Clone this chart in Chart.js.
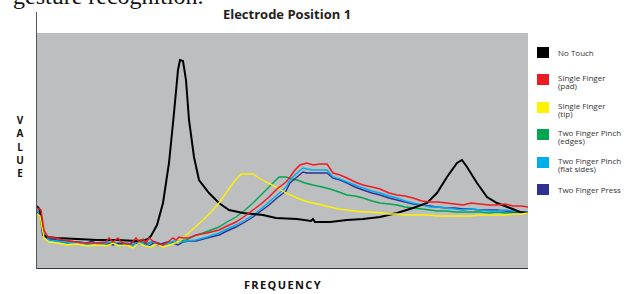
<!DOCTYPE html>
<html>
<head>
<meta charset="utf-8">
<script src="https://cdn.jsdelivr.net/npm/chart.js@4/dist/chart.umd.min.js"></script>
<style>
  body { margin: 0; width: 632px; height: 294px; position: relative; background: #fff; overflow: hidden; font-family: "Open Sans", sans-serif; }
  .abs { position: absolute; }
  #para { left: 13px; top: -16px; font: 24px/24px "Liberation Serif", serif; color: #111; white-space: nowrap; }
  #title { left: 187px; width: 200px; top: 5px; text-align: center; font-weight: bold; font-size: 13px; color: #222; }
  #yaxis { left: 36px; top: 12px; width: 1px; height: 257px; background: #555; }
  #plot { left: 37px; top: 33px; width: 491px; height: 235px; background: #bcbec0; border-bottom: 1px solid #333; }
  #value { left: 14px; top: 114px; width: 12px; text-align: center; font-weight: bold; font-size: 10px; line-height: 13.3px; color: #111; }
  #freq { left: 183px; width: 200px; top: 277px; text-align: center; font-weight: bold; font-size: 11px; letter-spacing: 1.4px; color: #111; }
  .leg { position: absolute; left: 537px; width: 95px; }
  .sw { position: absolute; left: 0; top: 0; width: 12px; height: 11px; }
  .lt { position: absolute; left: 21px; top: -0.5px; font-size: 8px; line-height: 8.5px; color: #333; white-space: nowrap; }
  .one { top: 1.5px; }
</style>
</head>
<body>
<div id="para" class="abs">gesture recognition.</div>
<div id="title" class="abs">Electrode Position 1</div>
<div id="yaxis" class="abs"></div>
<div id="plot" class="abs"><canvas id="c" width="491" height="235"></canvas></div>
<div id="value" class="abs">V<br>A<br>L<br>U<br>E</div>
<div id="freq" class="abs">FREQUENCY</div>
<div id="legend"></div>
<script>
// x = frequency (arbitrary units), y = value (arbitrary units)
const noTouch = [[0,62],[3,58],[6,33],[10,31],[20,30],[40,29],[60,28],[80,28],[100,27],[108,28],[111,29],[114,32],[120,43],[126,65],[132,105],[137,155],[141,198],[143,208],[146,207],[149,188],[152,148],[157,111],[162,88],[172,75],[182,65],[192,58],[206,55],[226,53],[239,50],[260,49],[274,47],[276,49],[278,46],[293,46],[310,48],[326,49],[343,51],[360,55],[376,60],[390,65],[400,75],[410,91],[420,105],[425,108],[430,101],[440,85],[450,71],[460,65],[473,60],[483,56],[491,55]];

const singlePad = [[0,60],[4,58],[7,38],[11,31],[19,30],[26,28],[39,26],[49,25],[59,25],[69,26],[72,30],[76,26],[81,30],[84,26],[89,24],[94,24],[99,30],[102,26],[106,29],[109,25],[112,30],[116,27],[121,24],[126,23],[131,26],[136,30],[139,28],[142,31],[146,30],[152,30],[159,33],[170,35],[182,38],[190,42],[199,46],[208,52],[216,58],[224,64],[232,71],[240,79],[249,86],[253,91],[258,98],[263,103],[270,105],[276,103],[283,104],[290,104],[296,95],[303,93],[310,90],[318,86],[326,83],[335,81],[343,79],[352,75],[360,73],[368,72],[376,70],[385,67],[393,66],[400,66],[410,65],[418,64],[426,63],[434,65],[443,64],[452,63],[460,63],[468,64],[476,62],[484,62],[491,61]];

const singleTip = [[0,54],[3,52],[7,30],[12,26],[20,25],[30,23],[40,24],[50,22],[60,23],[70,22],[76,25],[82,22],[90,23],[96,20],[102,25],[108,22],[114,21],[120,24],[126,21],[132,23],[138,25],[143,27],[146,30],[156,39],[166,48],[174,56],[182,65],[189,75],[196,85],[204,94],[210,94],[216,94],[222,90],[229,86],[239,81],[249,75],[260,70],[268,67],[276,65],[285,63],[293,61],[302,59],[310,58],[318,57],[326,56],[335,56],[343,55],[352,54],[360,54],[368,53],[376,53],[385,53],[393,53],[400,52],[410,52],[418,52],[426,52],[434,52],[443,53],[452,53],[460,53],[468,53],[476,54],[484,54],[491,55]];

const pinchEdges = [[0,58],[3,56],[7,32],[12,28],[20,27],[30,25],[40,26],[50,24],[60,25],[70,24],[76,26],[82,24],[90,25],[96,23],[102,27],[108,24],[114,26],[120,24],[126,23],[132,24],[138,26],[143,27],[149,28],[157,32],[166,35],[174,38],[182,41],[190,46],[199,51],[208,58],[216,65],[224,73],[232,81],[238,87],[242,91],[249,91],[255,89],[260,88],[268,85],[276,83],[285,81],[293,79],[302,76],[310,73],[318,72],[326,70],[335,67],[343,65],[352,64],[360,63],[368,61],[376,60],[385,59],[393,58],[400,57],[410,57],[418,56],[426,56],[434,56],[443,56],[452,55],[460,56],[468,55],[476,55],[484,55],[491,55]];

const pinchFlat = [[0,57],[3,55],[7,34],[12,28],[20,27],[30,26],[40,25],[50,24],[60,25],[70,25],[73,28],[78,24],[85,22],[90,25],[96,22],[100,27],[105,25],[110,22],[115,27],[120,23],[126,22],[131,25],[137,27],[143,26],[150,27],[159,28],[170,31],[182,35],[190,39],[199,43],[208,48],[216,53],[224,59],[232,66],[240,73],[249,81],[253,88],[260,95],[266,100],[270,99],[276,98],[283,98],[290,98],[296,91],[303,89],[310,86],[318,83],[326,80],[335,77],[343,75],[352,72],[360,70],[368,67],[376,65],[385,63],[393,61],[400,61],[410,60],[418,59],[426,58],[434,59],[443,58],[452,57],[460,57],[468,58],[476,57],[484,56],[491,56]];

const twoPress = [[0,56],[3,54],[7,33],[12,29],[20,28],[30,27],[40,26],[50,25],[55,27],[60,24],[70,25],[76,23],[82,25],[90,23],[96,26],[101,24],[108,25],[112,22],[118,26],[124,24],[130,26],[136,25],[141,23],[146,26],[152,27],[159,27],[170,30],[182,33],[190,37],[199,41],[208,46],[216,51],[224,57],[232,63],[240,70],[249,77],[253,85],[260,91],[266,96],[270,95],[276,95],[283,95],[290,95],[296,90],[303,88],[310,85],[318,81],[326,78],[335,75],[343,73],[352,70],[360,68],[368,66],[376,64],[385,63],[393,62],[400,61],[410,60],[418,60],[426,59],[434,59],[443,58],[452,58],[460,58],[468,57],[476,56],[484,56],[491,56]];

const seriesNames = ['No Touch', 'Single Finger\n(pad)', 'Single Finger\n(tip)', 'Two Finger Pinch\n(edges)', 'Two Finger Pinch\n(flat sides)', 'Two Finger Press'];
const seriesData = [noTouch, singlePad, singleTip, pinchEdges, pinchFlat, twoPress];
const seriesColors = ['#000000', '#ed1c24', '#fff200', '#00a651', '#00aeef', '#2e3192'];
const lineWidths = [2, 1.5, 1.4, 1.4, 1.4, 1.4];
const drawOrder = [3, 1, 2, 6, 4, 5];

// legend
const legTops = [47, 74, 102, 129, 157, 184];
const legend = document.getElementById('legend');
seriesNames.forEach((name, i) => {
    const lines = name.split('\n');
    const d = document.createElement('div');
    d.className = 'leg';
    d.style.top = legTops[i] + 'px';
    d.innerHTML = `<div class="sw" style="background:${seriesColors[i]}"></div>` +
        `<div class="lt${lines.length === 1 ? ' one' : ''}">${lines.join('<br>')}</div>`;
    legend.appendChild(d);
});

new Chart(document.getElementById('c').getContext('2d'), {
    type: 'line',
    data: {
        datasets: seriesData.map((pts, i) => ({
            label: seriesNames[i],
            data: pts.map(p => ({ x: p[0], y: p[1] })),
            borderColor: seriesColors[i],
            borderWidth: lineWidths[i],
            pointRadius: 0,
            tension: 0,
            order: drawOrder[i]
        }))
    },
    options: {
        responsive: false,
        animation: false,
        layout: { padding: 0 },
        plugins: { legend: { display: false }, tooltip: { enabled: false } },
        scales: {
            x: { type: 'linear', min: 0, max: 491, display: false },
            y: { min: 0, max: 235, display: false }
        }
    }
});
</script>
</body>
</html>
